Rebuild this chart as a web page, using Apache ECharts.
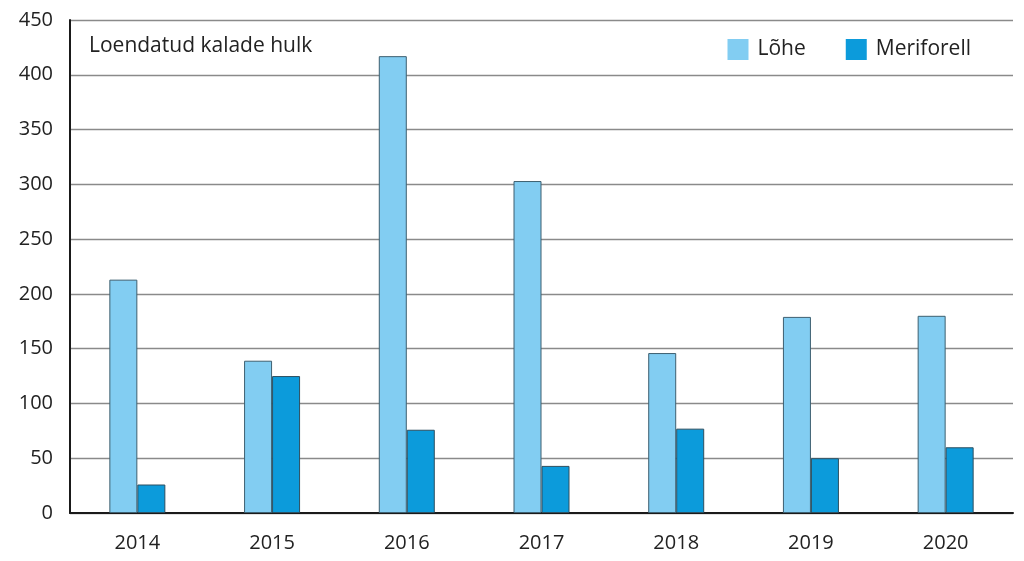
<!DOCTYPE html>
<html><head><meta charset="utf-8">
<script src="https://cdn.jsdelivr.net/npm/echarts@6/dist/echarts.min.js"></script>
<style>html,body{margin:0;padding:0;background:#fff}#c{width:1024px;height:561px}</style>
</head><body><div id="c"></div>
<script>
const years = ['2014','2015','2016','2017','2018','2019','2020'];
const lohe = [213, 139, 417, 303, 146, 179, 180];
const meriforell = [26, 125, 76, 43, 77, 50, 60];
const yTicks = [0, 50, 100, 150, 200, 250, 300, 350, 400, 450];

const font = '"Open Sans", "Noto Sans", sans-serif';
const chart = echarts.init(document.getElementById('c'));
chart.setOption({
  animation: false,
  backgroundColor: '#fff',
  grid: {left: 70, right: 11, top: 20, bottom: 48, containLabel: false},
  title: {text: 'Loendatud kalade hulk', left: 84, top: 31,
    textStyle: {fontFamily: font, fontSize: 21, fontWeight: 'normal', color: '#222'}},
  legend: {right: 48, top: 34, itemWidth: 21, itemHeight: 21, itemGap: 40,
    textStyle: {fontFamily: font, fontSize: 21, color: '#222', padding: [0,0,0,4]},
    data: [{name: 'Lõhe', icon: 'rect', itemStyle: {borderWidth: 0}},
           {name: 'Meriforell', icon: 'rect', itemStyle: {borderWidth: 0}}]},
  xAxis: {type: 'category', data: years,
    axisLine: {lineStyle: {color: '#1a1a1a', width: 2}},
    axisTick: {show: false},
    axisLabel: {fontFamily: font, fontSize: 20, color: '#222', margin: 20}},
  yAxis: {type: 'value', min: yTicks[0], max: yTicks[yTicks.length-1], interval: 50,
    axisLine: {show: true, lineStyle: {color: '#1a1a1a', width: 2}},
    axisTick: {show: false},
    axisLabel: {fontFamily: font, fontSize: 20, color: '#222', margin: 17},
    splitLine: {lineStyle: {color: '#8a8a8a', width: 1.3}}},
  series: [
    {name: 'Lõhe', type: 'bar', data: lohe, barWidth: 28, barGap: '0%',
     itemStyle: {color: '#82cdf2', borderColor: '#3d5f70', borderWidth: 1}},
    {name: 'Meriforell', type: 'bar', data: meriforell, barWidth: 28, barGap: '0%',
     itemStyle: {color: '#0c9bdb', borderColor: '#2d4f60', borderWidth: 1}}
  ]
});
</script></body></html>
